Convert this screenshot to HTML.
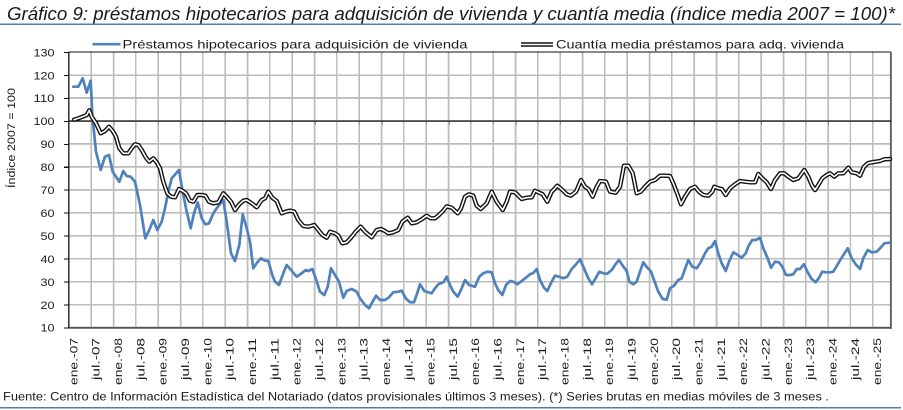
<!DOCTYPE html>
<html><head><meta charset="utf-8"><style>
html,body{margin:0;padding:0;background:#fff;}
body{position:relative;width:903px;height:410px;overflow:hidden;}
svg{display:block;position:absolute;left:0;top:0;}
text{font-family:"Liberation Sans",sans-serif;fill:#1a1a1a;}
.gridv{position:absolute;left:68.8px;top:52.3px;width:822px;height:275.4px;
background-image:repeating-linear-gradient(to right,#bcbcbc 0px,#bcbcbc 0.7px,transparent 0.7px,transparent 21.63px,#bcbcbc 21.63px,#bcbcbc 22.33px);}
.gridh{position:absolute;left:68.8px;top:52.3px;width:822px;height:275.4px;
background-image:repeating-linear-gradient(to bottom,#bcbcbc 0px,#bcbcbc 0.7px,transparent 0.7px,transparent 22.25px,#bcbcbc 22.25px,#bcbcbc 22.95px);}
.yt{position:absolute;left:63.5px;top:51.8px;width:5.3px;height:277px;
background-image:repeating-linear-gradient(to bottom,#111 0px,#111 1px,transparent 1px,transparent 22.95px);}
.xt{position:absolute;left:68.8px;top:121px;width:812px;height:4.2px;
background-image:repeating-linear-gradient(to right,#111 0px,#111 0.65px,transparent 0.65px,transparent 21.68px,#111 21.68px,#111 22.33px);}
</style></head><body>
<div class="gridv"></div>
<div class="gridh"></div>
<div class="yt"></div>
<div class="xt"></div>
<svg width="903" height="410" viewBox="0 0 903 410" xmlns="http://www.w3.org/2000/svg" xmlns:xlink="http://www.w3.org/1999/xlink">
<defs>
<polyline id="cm" points="74,119.7 78.3,118.3 82.7,116.7 86.7,115 89.3,110.3 91.7,116.7 96,123.3 100.7,133.3 105,131 109,126.7 112.7,131 116,136.7 119.3,148.3 123.3,153.3 128.3,153.3 131.7,148.3 135,144.3 138.3,145 141.7,150 146,157.7 149.3,161.7 153.3,158.3 156.7,162.3 160,168.3 163.3,181.7 167.3,193.3 171,196.7 175,197.3 179,189 182.7,191 186,193.3 190,200.7 193.3,201.7 197.3,195 201.7,195 205.3,195.7 209,201.7 213.3,203.3 218.3,202.3 223.3,193.3 226.7,196.7 231,201.7 235,210 239.3,204.3 243.3,200.7 246.7,200 251.7,203.3 256.7,207.3 261.7,200 265,198.3 268.3,191.7 272.3,197.7 276.7,201 281.7,213.3 285.7,211.7 290,210.7 294.3,211.7 298.3,220 303.3,226 308.3,226.7 314.3,225 318.3,230 322.3,235 326.7,237.7 330,231.7 335,233.3 338.3,235.7 342.3,243.3 346.7,242.3 351,237.7 355.7,231.7 360.7,226.7 365,231.7 371.7,237.3 376.7,230 381,229 385,231 388.3,233.3 393.3,232.3 398.3,230 402.3,221.7 407.7,217.7 411.7,223.3 416.7,222.3 421.7,219.3 426.7,215.7 430.7,218.3 435,218.3 439,215 443.3,210.7 446.7,206.3 451.7,207.7 457.7,213.3 461,208.3 465,196.7 469,194.3 473.3,195.7 476.7,205.7 480.7,209 486.7,203.3 491.7,191.7 496.7,201.7 502.7,210 506.7,201.7 510,191.7 515,192.3 518.3,195.7 521.7,199 526.7,197.7 531.7,197.3 535,190.7 538.3,192.3 542.7,194.3 547.3,201.7 551.7,191.7 557.3,185.7 561.7,189.3 566.7,194.3 570.7,195.7 576,191.7 581,180 585,186.7 588.3,189 592.7,196.7 596.7,186.7 600,181 606,181.7 610,191.7 615.7,192.7 620,186.7 624,165.7 628.3,165.7 632.7,173.3 636.7,193.3 640.7,191.7 645,186.7 650,181.7 655,180 660,175.7 665,175.7 670,176 674,185 677.7,195 681,204.3 685,196.7 690,189 695,186.7 699,191.7 703.3,195 708.3,195.7 712.3,191.7 714.3,186.7 718.3,188.3 721.7,189 725.7,195 730,188.3 735,184.3 740,181 745,181.7 750,182.3 755,182.3 758.3,174 762.3,178.3 766.7,182.3 771,189 775,180 780,173.3 784.3,173.3 788.3,176.7 793.3,180 798.3,178.3 804.3,170 808.3,176.7 811.7,185 815,190 818.3,185 822.3,178.3 826.7,175 830,173.3 834.3,176.7 838.3,173.3 843.3,173.3 848.3,167.7 851.7,172.3 856.7,173.3 860,175.7 864,166.7 867.7,163.3 871.7,162.3 875.7,161.7 880,161 884.3,159.3 890,159"/>
</defs>
<!-- title -->
<text x="7" y="20" font-size="18" font-style="italic" textLength="888" lengthAdjust="spacingAndGlyphs">Gráfico 9: préstamos hipotecarios para adquisición de vivienda y cuantía media (índice media 2007 = 100)*</text>
<line x1="0" y1="24.2" x2="901" y2="24.2" stroke="#4f7db0" stroke-width="1.5"/>

<!-- grid vertical -->
<line x1="91.1" y1="52.3" x2="91.1" y2="327.7" stroke="#bcbcbc" stroke-width="1.4"/>
<line x1="113.5" y1="52.3" x2="113.5" y2="327.7" stroke="#bcbcbc" stroke-width="1.4"/>
<line x1="135.8" y1="52.3" x2="135.8" y2="327.7" stroke="#bcbcbc" stroke-width="1.4"/>
<line x1="158.1" y1="52.3" x2="158.1" y2="327.7" stroke="#bcbcbc" stroke-width="1.4"/>
<line x1="180.5" y1="52.3" x2="180.5" y2="327.7" stroke="#bcbcbc" stroke-width="1.4"/>
<line x1="202.8" y1="52.3" x2="202.8" y2="327.7" stroke="#bcbcbc" stroke-width="1.4"/>
<line x1="225.1" y1="52.3" x2="225.1" y2="327.7" stroke="#bcbcbc" stroke-width="1.4"/>
<line x1="247.4" y1="52.3" x2="247.4" y2="327.7" stroke="#bcbcbc" stroke-width="1.4"/>
<line x1="269.8" y1="52.3" x2="269.8" y2="327.7" stroke="#bcbcbc" stroke-width="1.4"/>
<line x1="292.1" y1="52.3" x2="292.1" y2="327.7" stroke="#bcbcbc" stroke-width="1.4"/>
<line x1="314.4" y1="52.3" x2="314.4" y2="327.7" stroke="#bcbcbc" stroke-width="1.4"/>
<line x1="336.8" y1="52.3" x2="336.8" y2="327.7" stroke="#bcbcbc" stroke-width="1.4"/>
<line x1="359.1" y1="52.3" x2="359.1" y2="327.7" stroke="#bcbcbc" stroke-width="1.4"/>
<line x1="381.4" y1="52.3" x2="381.4" y2="327.7" stroke="#bcbcbc" stroke-width="1.4"/>
<line x1="403.8" y1="52.3" x2="403.8" y2="327.7" stroke="#bcbcbc" stroke-width="1.4"/>
<line x1="426.1" y1="52.3" x2="426.1" y2="327.7" stroke="#bcbcbc" stroke-width="1.4"/>
<line x1="448.4" y1="52.3" x2="448.4" y2="327.7" stroke="#bcbcbc" stroke-width="1.4"/>
<line x1="470.7" y1="52.3" x2="470.7" y2="327.7" stroke="#bcbcbc" stroke-width="1.4"/>
<line x1="493.1" y1="52.3" x2="493.1" y2="327.7" stroke="#bcbcbc" stroke-width="1.4"/>
<line x1="515.4" y1="52.3" x2="515.4" y2="327.7" stroke="#bcbcbc" stroke-width="1.4"/>
<line x1="537.7" y1="52.3" x2="537.7" y2="327.7" stroke="#bcbcbc" stroke-width="1.4"/>
<line x1="560.1" y1="52.3" x2="560.1" y2="327.7" stroke="#bcbcbc" stroke-width="1.4"/>
<line x1="582.4" y1="52.3" x2="582.4" y2="327.7" stroke="#bcbcbc" stroke-width="1.4"/>
<line x1="604.7" y1="52.3" x2="604.7" y2="327.7" stroke="#bcbcbc" stroke-width="1.4"/>
<line x1="627.1" y1="52.3" x2="627.1" y2="327.7" stroke="#bcbcbc" stroke-width="1.4"/>
<line x1="649.4" y1="52.3" x2="649.4" y2="327.7" stroke="#bcbcbc" stroke-width="1.4"/>
<line x1="671.7" y1="52.3" x2="671.7" y2="327.7" stroke="#bcbcbc" stroke-width="1.4"/>
<line x1="694" y1="52.3" x2="694" y2="327.7" stroke="#bcbcbc" stroke-width="1.4"/>
<line x1="716.4" y1="52.3" x2="716.4" y2="327.7" stroke="#bcbcbc" stroke-width="1.4"/>
<line x1="738.7" y1="52.3" x2="738.7" y2="327.7" stroke="#bcbcbc" stroke-width="1.4"/>
<line x1="761" y1="52.3" x2="761" y2="327.7" stroke="#bcbcbc" stroke-width="1.4"/>
<line x1="783.4" y1="52.3" x2="783.4" y2="327.7" stroke="#bcbcbc" stroke-width="1.4"/>
<line x1="805.7" y1="52.3" x2="805.7" y2="327.7" stroke="#bcbcbc" stroke-width="1.4"/>
<line x1="828" y1="52.3" x2="828" y2="327.7" stroke="#bcbcbc" stroke-width="1.4"/>
<line x1="850.4" y1="52.3" x2="850.4" y2="327.7" stroke="#bcbcbc" stroke-width="1.4"/>
<line x1="872.7" y1="52.3" x2="872.7" y2="327.7" stroke="#bcbcbc" stroke-width="1.4"/>
<!-- grid horizontal -->
<line x1="68.8" y1="75.25" x2="891" y2="75.25" stroke="#bcbcbc" stroke-width="1.4"/>
<line x1="68.8" y1="98.2" x2="891" y2="98.2" stroke="#bcbcbc" stroke-width="1.4"/>
<line x1="68.8" y1="144.1" x2="891" y2="144.1" stroke="#bcbcbc" stroke-width="1.4"/>
<line x1="68.8" y1="167.05" x2="891" y2="167.05" stroke="#bcbcbc" stroke-width="1.4"/>
<line x1="68.8" y1="190" x2="891" y2="190" stroke="#bcbcbc" stroke-width="1.4"/>
<line x1="68.8" y1="212.95" x2="891" y2="212.95" stroke="#bcbcbc" stroke-width="1.4"/>
<line x1="68.8" y1="235.9" x2="891" y2="235.9" stroke="#bcbcbc" stroke-width="1.4"/>
<line x1="68.8" y1="258.85" x2="891" y2="258.85" stroke="#bcbcbc" stroke-width="1.4"/>
<line x1="68.8" y1="281.8" x2="891" y2="281.8" stroke="#bcbcbc" stroke-width="1.4"/>
<line x1="68.8" y1="304.75" x2="891" y2="304.75" stroke="#bcbcbc" stroke-width="1.4"/>

<!-- frame -->
<line x1="68.8" y1="52" x2="891" y2="52" stroke="#111" stroke-width="1"/>
<line x1="68.8" y1="327.9" x2="891" y2="327.9" stroke="#333" stroke-width="1.4"/>
<line x1="890.9" y1="52" x2="890.9" y2="329" stroke="#666" stroke-width="2"/>
<line x1="68.8" y1="52" x2="68.8" y2="328.5" stroke="#111" stroke-width="1.3"/>
<!-- horizontal axis at 100 -->
<line x1="68.8" y1="121.15" x2="891" y2="121.15" stroke="#111" stroke-width="1.3"/>

<!-- y labels -->
<g font-size="11">
<text x="33.5" y="56.3" textLength="21" lengthAdjust="spacingAndGlyphs">130</text>
<text x="33.5" y="79.25" textLength="21" lengthAdjust="spacingAndGlyphs">120</text>
<text x="33.5" y="102.2" textLength="21" lengthAdjust="spacingAndGlyphs">110</text>
<text x="33.5" y="125.15" textLength="21" lengthAdjust="spacingAndGlyphs">100</text>
<text x="40.5" y="148.1" textLength="14" lengthAdjust="spacingAndGlyphs">90</text>
<text x="40.5" y="171.05" textLength="14" lengthAdjust="spacingAndGlyphs">80</text>
<text x="40.5" y="194" textLength="14" lengthAdjust="spacingAndGlyphs">70</text>
<text x="40.5" y="216.95" textLength="14" lengthAdjust="spacingAndGlyphs">60</text>
<text x="40.5" y="239.9" textLength="14" lengthAdjust="spacingAndGlyphs">50</text>
<text x="40.5" y="262.85" textLength="14" lengthAdjust="spacingAndGlyphs">40</text>
<text x="40.5" y="285.8" textLength="14" lengthAdjust="spacingAndGlyphs">30</text>
<text x="40.5" y="308.75" textLength="14" lengthAdjust="spacingAndGlyphs">20</text>
<text x="40.5" y="331.7" textLength="14" lengthAdjust="spacingAndGlyphs">10</text>
</g>
<!-- y title -->
<text transform="translate(15,138) rotate(-90)" x="-50" y="0" font-size="11" textLength="100" lengthAdjust="spacingAndGlyphs">Índice 2007 = 100</text>

<!-- x labels -->
<g font-size="11">
<text transform="translate(77.3,338) rotate(-90)" x="-47" textLength="47" lengthAdjust="spacingAndGlyphs">ene.-07</text>
<text transform="translate(99.63,338) rotate(-90)" x="-42" textLength="42" lengthAdjust="spacingAndGlyphs">jul.-07</text>
<text transform="translate(121.96,338) rotate(-90)" x="-47" textLength="47" lengthAdjust="spacingAndGlyphs">ene.-08</text>
<text transform="translate(144.29,338) rotate(-90)" x="-42" textLength="42" lengthAdjust="spacingAndGlyphs">jul.-08</text>
<text transform="translate(166.62,338) rotate(-90)" x="-47" textLength="47" lengthAdjust="spacingAndGlyphs">ene.-09</text>
<text transform="translate(188.95,338) rotate(-90)" x="-42" textLength="42" lengthAdjust="spacingAndGlyphs">jul.-09</text>
<text transform="translate(211.28,338) rotate(-90)" x="-47" textLength="47" lengthAdjust="spacingAndGlyphs">ene.-10</text>
<text transform="translate(233.61,338) rotate(-90)" x="-42" textLength="42" lengthAdjust="spacingAndGlyphs">jul.-10</text>
<text transform="translate(255.94,338) rotate(-90)" x="-47" textLength="47" lengthAdjust="spacingAndGlyphs">ene.-11</text>
<text transform="translate(278.27,338) rotate(-90)" x="-42" textLength="42" lengthAdjust="spacingAndGlyphs">jul.-11</text>
<text transform="translate(300.6,338) rotate(-90)" x="-47" textLength="47" lengthAdjust="spacingAndGlyphs">ene.-12</text>
<text transform="translate(322.93,338) rotate(-90)" x="-42" textLength="42" lengthAdjust="spacingAndGlyphs">jul.-12</text>
<text transform="translate(345.26,338) rotate(-90)" x="-47" textLength="47" lengthAdjust="spacingAndGlyphs">ene.-13</text>
<text transform="translate(367.59,338) rotate(-90)" x="-42" textLength="42" lengthAdjust="spacingAndGlyphs">jul.-13</text>
<text transform="translate(389.92,338) rotate(-90)" x="-47" textLength="47" lengthAdjust="spacingAndGlyphs">ene.-14</text>
<text transform="translate(412.25,338) rotate(-90)" x="-42" textLength="42" lengthAdjust="spacingAndGlyphs">jul.-14</text>
<text transform="translate(434.58,338) rotate(-90)" x="-47" textLength="47" lengthAdjust="spacingAndGlyphs">ene.-15</text>
<text transform="translate(456.91,338) rotate(-90)" x="-42" textLength="42" lengthAdjust="spacingAndGlyphs">jul.-15</text>
<text transform="translate(479.24,338) rotate(-90)" x="-47" textLength="47" lengthAdjust="spacingAndGlyphs">ene.-16</text>
<text transform="translate(501.57,338) rotate(-90)" x="-42" textLength="42" lengthAdjust="spacingAndGlyphs">jul.-16</text>
<text transform="translate(523.9,338) rotate(-90)" x="-47" textLength="47" lengthAdjust="spacingAndGlyphs">ene.-17</text>
<text transform="translate(546.23,338) rotate(-90)" x="-42" textLength="42" lengthAdjust="spacingAndGlyphs">jul.-17</text>
<text transform="translate(568.56,338) rotate(-90)" x="-47" textLength="47" lengthAdjust="spacingAndGlyphs">ene.-18</text>
<text transform="translate(590.89,338) rotate(-90)" x="-42" textLength="42" lengthAdjust="spacingAndGlyphs">jul.-18</text>
<text transform="translate(613.22,338) rotate(-90)" x="-47" textLength="47" lengthAdjust="spacingAndGlyphs">ene.-19</text>
<text transform="translate(635.55,338) rotate(-90)" x="-42" textLength="42" lengthAdjust="spacingAndGlyphs">jul.-19</text>
<text transform="translate(657.88,338) rotate(-90)" x="-47" textLength="47" lengthAdjust="spacingAndGlyphs">ene.-20</text>
<text transform="translate(680.21,338) rotate(-90)" x="-42" textLength="42" lengthAdjust="spacingAndGlyphs">jul.-20</text>
<text transform="translate(702.54,338) rotate(-90)" x="-47" textLength="47" lengthAdjust="spacingAndGlyphs">ene.-21</text>
<text transform="translate(724.87,338) rotate(-90)" x="-42" textLength="42" lengthAdjust="spacingAndGlyphs">jul.-21</text>
<text transform="translate(747.2,338) rotate(-90)" x="-47" textLength="47" lengthAdjust="spacingAndGlyphs">ene.-22</text>
<text transform="translate(769.53,338) rotate(-90)" x="-42" textLength="42" lengthAdjust="spacingAndGlyphs">jul.-22</text>
<text transform="translate(791.86,338) rotate(-90)" x="-47" textLength="47" lengthAdjust="spacingAndGlyphs">ene.-23</text>
<text transform="translate(814.19,338) rotate(-90)" x="-42" textLength="42" lengthAdjust="spacingAndGlyphs">jul.-23</text>
<text transform="translate(836.52,338) rotate(-90)" x="-47" textLength="47" lengthAdjust="spacingAndGlyphs">ene.-24</text>
<text transform="translate(858.85,338) rotate(-90)" x="-42" textLength="42" lengthAdjust="spacingAndGlyphs">jul.-24</text>
<text transform="translate(881.18,338) rotate(-90)" x="-47" textLength="47" lengthAdjust="spacingAndGlyphs">ene.-25</text>
</g>

<!-- blue series -->
<polyline fill="none" stroke="#4f81bd" stroke-width="2.7" stroke-linejoin="round" stroke-linecap="round" points="73.3,86.7 78.3,86.7 82.7,78.3 86.7,92.7 90.7,80.7 92.3,115 96,151.7 100.7,170 105,156.7 109,155 112.7,171.7 119.3,181.7 123.3,171 126.7,176 130.7,176.7 135,181.7 140,205 145.3,238.3 150,228.3 153.3,220 157.3,230 161.7,221.7 165,208.3 168.3,191.7 171.7,178.3 175.3,174.3 179,170 182.7,191.7 186.7,211.7 190.7,228.3 194,213.3 197.7,202.3 201.7,218.3 205.3,224.3 209,223.3 213.3,213.3 218.3,206 223.3,200 226.7,221.7 231,253.3 235,261 239.3,245 242.7,214.3 246.7,228.3 250,241.7 253.3,268.3 257.3,262.3 261,258.3 265,260.7 268.3,261 272.3,275 275,281.7 279,285 283.3,273.3 286.7,265 291,270 296.7,276.7 301.7,273.3 305.7,270 308.3,271 312.3,269 315.7,278.3 320,291.7 324.3,295 327.7,286.7 331,268.3 335,275 339,281.7 343.3,297.7 346.7,291 351.7,289 356.7,291.7 360,298.3 365,305 369,308.3 371.7,303.3 376,295.7 380,300 385,300 389,297.3 393.3,292.3 398.3,291.7 401.7,290.7 405.7,298.3 410,302.3 414,302.3 417.7,291.7 420,284.3 424.3,291 428.3,292.3 431.7,293.3 435,288.3 438.3,284.3 443.3,282.3 446.7,276.7 450,285 453.3,291.7 457.7,296.7 461.7,288.3 465,280 469,285 475,286.7 479.3,276.7 483.3,273.3 487.3,271.7 491.7,272.3 495,283.3 498.3,290 502.3,295 506,285 510,281 513.3,281.7 517.3,284.3 521.7,281 526,277.7 530,274.3 533.3,273 536.7,269 540,280 544,287.7 547.3,291 551.7,281.7 555,275.7 559.3,276.7 563.3,278.3 567.3,276.7 571.7,269 576,264.3 580,259.3 583.3,266.7 588.3,278.3 592,284.3 596,277.7 599.3,271.7 603.3,273.3 607.3,273.7 611.7,270 615.7,264 619,260 622.7,265.7 626.7,271 629.3,281.7 633.3,284.3 636.7,281.7 640,271.7 643.3,262.3 647.3,267.7 650.7,271 654,280 658.3,291.7 662.7,299 666.7,299.7 670,288.3 674,285.7 678.3,280 681.7,278.3 685,269 688.3,260 692.3,266.7 696.7,268.3 701,261.7 705,253.3 708.3,248.3 711.7,246.7 715,241 718.3,253.3 721.7,263.3 725.7,271 729,261.7 733.3,252.3 737.7,255 741.7,257.7 745.7,253.3 749,245 752.3,240 755.7,240 760,237.7 763.3,248.3 767.7,258.3 771,267.7 775,261.7 779,262.3 782.3,266.7 786,275 790,275 793.3,274.3 796.7,269 800,269 804,264.3 807.7,272.3 811.7,279 815.7,282.3 819,277.7 822.3,271.7 826.7,272.3 830,272.3 833.3,271.7 838.3,263.3 842.3,256.7 847.7,248.3 851.7,258.3 855.7,264.3 860,269 863.3,258.3 867.7,250 871.7,252.3 876.7,251.7 881,247.3 884.3,243.3 890,242.7"/>

<!-- cuantia series (double line) -->
<use href="#cm" xlink:href="#cm" fill="none" stroke="#111" stroke-width="4.4" stroke-linejoin="round" stroke-linecap="round"/>
<use href="#cm" xlink:href="#cm" fill="none" stroke="#fff" stroke-width="1.6" stroke-linejoin="round" stroke-linecap="round"/>

<!-- legend -->
<line x1="92.5" y1="44.2" x2="120.5" y2="44.2" stroke="#4f81bd" stroke-width="2.7"/>
<text x="122.5" y="48.4" font-size="12" textLength="345" lengthAdjust="spacingAndGlyphs">Préstamos hipotecarios para adquisición de vivienda</text>
<line x1="521" y1="44.5" x2="553" y2="44.5" stroke="#111" stroke-width="4.4"/>
<line x1="521" y1="44.5" x2="553" y2="44.5" stroke="#fff" stroke-width="1.6"/>
<text x="556" y="48.4" font-size="12" textLength="288" lengthAdjust="spacingAndGlyphs">Cuantía media préstamos para adq. vivienda</text>

<!-- footnote -->
<text x="3" y="400.7" font-size="12" textLength="826" lengthAdjust="spacingAndGlyphs">Fuente: Centro de Información Estadística del Notariado (datos provisionales últimos 3 meses). (*) Series brutas en medias móviles de 3 meses .</text>
<line x1="0" y1="407.7" x2="901" y2="407.7" stroke="#4f7db0" stroke-width="1.5"/>
</svg>
</body></html>
